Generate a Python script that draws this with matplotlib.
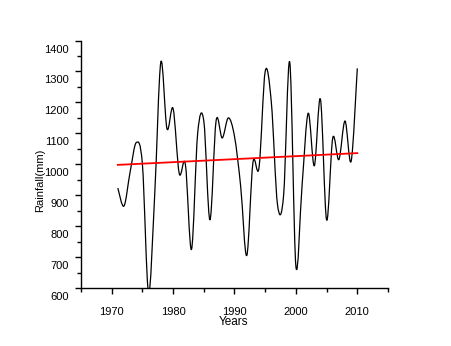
import numpy as np
import matplotlib
matplotlib.use("Agg")
import matplotlib.pyplot as plt
from matplotlib.path import Path
from matplotlib.patches import PathPatch
import matplotlib.transforms as mtransforms

plt.rcParams['font.family'] = ['Liberation Sans Narrow', 'Liberation Sans', 'DejaVu Sans']

# annual rainfall (mm)
years = list(range(1971, 2011))
rainfall = [923, 865, 975, 1070, 1000, 585, 900, 1330, 1115, 1180,
            970, 1000, 725, 1100, 1140, 820, 1140, 1085, 1150, 1090,
            930, 705, 1005, 990, 1300, 1200, 870, 900, 1330, 670,
            930, 1165, 995, 1210, 820, 1085, 1015, 1140, 1010, 1310]
# red trend line as drawn in the reference (start and end)
trend_years = [1971, 2010]
trend_vals = [998, 1036]
xticks = [1970, 1980, 1990, 2000, 2010]
yticks = [600, 700, 800, 900, 1000, 1100, 1200, 1300, 1400]


def spline_path(x, y):
    # smooth "spline connect" line through the points (Catmull-Rom as bezier)
    pts = np.column_stack([x, y]).astype(float)
    ext = np.vstack([pts[0], pts, pts[-1]])
    verts = [pts[0]]
    codes = [Path.MOVETO]
    for i in range(1, len(ext) - 2):
        p0, p1, p2, p3 = ext[i - 1], ext[i], ext[i + 1], ext[i + 2]
        verts += [p1 + (p2 - p0) / 6, p2 - (p3 - p1) / 6, p2]
        codes += [Path.CURVE4] * 3
    return Path(verts, codes)


fig = plt.figure(figsize=(4.51, 3.46), dpi=100)
ax = fig.add_axes([0.1796, 0.1676, 0.6807, 0.7153])

ax.add_patch(PathPatch(spline_path(years, rainfall), fill=False,
                       edgecolor='black', lw=0.9))
ax.plot(trend_years, trend_vals, color='red', lw=1.3)

ax.set_xlim(1965, 2015)
ax.set_ylim(600, 1400)
ax.set_xticks(xticks)
ax.set_xticks(np.arange(1965, 2016, 5), minor=True)
ax.set_yticks(yticks)
ax.set_yticks(np.arange(650, 1400, 100), minor=True)

for s in ['top', 'right']:
    ax.spines[s].set_visible(False)
for s in ['left', 'bottom']:
    ax.spines[s].set_linewidth(1.0)

ax.tick_params(axis='both', which='major', direction='out', length=4.5,
               width=1.0, labelsize=8)
ax.tick_params(axis='both', which='minor', direction='out', length=3,
               width=1.0)
ax.tick_params(axis='x', which='major', pad=9)
ax.tick_params(axis='y', which='major', pad=4)

# y labels sit a bit below their ticks in the original
off = mtransforms.ScaledTranslation(0, -0.08, fig.dpi_scale_trans)
for lab in ax.get_yticklabels():
    lab.set_transform(lab.get_transform() + off)

fig.text(0.517, 0.068, 'Years', ha='center', va='center', fontsize=8.5)
fig.text(0.089, 0.48, 'Rainfall(mm)', ha='center', va='center',
         fontsize=8, rotation=90)

fig.savefig('out.png', dpi=100)
